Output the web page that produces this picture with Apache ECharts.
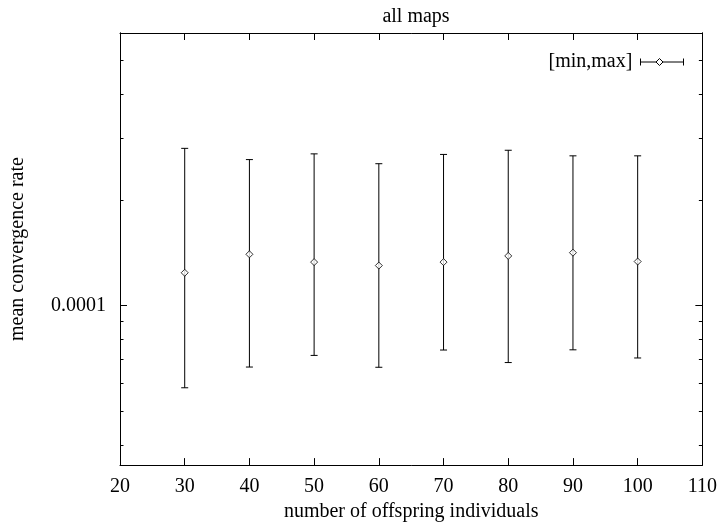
<!DOCTYPE html>
<html>
<head>
<meta charset="utf-8">
<title>all maps</title>
<script src="https://cdn.jsdelivr.net/npm/echarts@6/dist/echarts.min.js"></script>
<style>
  html, body { margin: 0; padding: 0; background: #fff; }
  #chart { width: 720px; height: 527px; }
</style>
</head>
<body>
<div id="chart"></div>
<script>
// Number of offspring individuals per run
const offspring = [30, 40, 50, 60, 70, 80, 90, 100];
// Mean convergence rate and its [min, max] range over all maps
const meanRate = [1.24e-4, 1.40e-4, 1.33e-4, 1.30e-4, 1.33e-4, 1.385e-4, 1.415e-4, 1.335e-4];
const minRate  = [5.82e-5, 6.67e-5, 7.20e-5, 6.66e-5, 7.46e-5, 6.87e-5, 7.47e-5, 7.08e-5];
const maxRate  = [2.81e-4, 2.61e-4, 2.71e-4, 2.54e-4, 2.70e-4, 2.775e-4, 2.675e-4, 2.675e-4];

// Axis ranges and tick positions
const xRange = [20, 110];
const xStep = 10;
const yRange = [3.5e-5, 6e-4];
const yMajorTicks = [1e-4];
const yMinorTicks = [4e-5, 5e-5, 6e-5, 7e-5, 8e-5, 9e-5, 2e-4, 3e-4, 4e-4, 5e-4];

const FONT = 'Liberation Serif';
const INK = '#000';

const errData = offspring.map((x, i) => [x, minRate[i], maxRate[i]]);
const meanData = offspring.map((x, i) => [x, meanRate[i]]);

function logAxis(position, ticks, tickLen, showLabels) {
  return {
    type: 'log',
    logBase: 10,
    position: position,
    min: yRange[0],
    max: yRange[1],
    axisLine: { show: true, lineStyle: { color: INK, width: 1 } },
    axisTick: { show: true, inside: true, length: tickLen, customValues: ticks,
                lineStyle: { color: INK, width: 1 } },
    axisLabel: showLabels ? {
      show: true, customValues: ticks, margin: 14,
      fontFamily: FONT, fontSize: 20, color: INK,
      formatter: v => (Math.abs(v - 1e-4) < 1e-9 ? '0.0001' : '')
    } : { show: false },
    splitLine: { show: false },
    minorTick: { show: false },
    minorSplitLine: { show: false }
  };
}

function linAxis(position, showLabels) {
  return {
    type: 'value',
    position: position,
    min: xRange[0],
    max: xRange[1],
    interval: xStep,
    axisLine: { show: true, onZero: false, lineStyle: { color: INK, width: 1 } },
    axisTick: { show: true, inside: true, length: 7, lineStyle: { color: INK, width: 1 } },
    axisLabel: showLabels ? { show: true, margin: 12, fontFamily: FONT, fontSize: 20, color: INK }
                          : { show: false },
    splitLine: { show: false }
  };
}

const chart = echarts.init(document.getElementById('chart'), null, { renderer: 'canvas' });

const xBottom = linAxis('bottom', true);
xBottom.name = 'number of offspring individuals';
xBottom.nameLocation = 'middle';
xBottom.nameGap = 34;
xBottom.nameTextStyle = { fontFamily: FONT, fontSize: 20, color: INK };

const yLeft = logAxis('left', yMajorTicks, 7, true);
yLeft.name = 'mean convergence rate';
yLeft.nameLocation = 'middle';
yLeft.nameGap = 92;
yLeft.nameTextStyle = { fontFamily: FONT, fontSize: 20, color: INK };

chart.setOption({
  animation: false,
  backgroundColor: '#fff',
  title: {
    text: 'all maps',
    left: 411,
    textAlign: 'center',
    top: 2,
    textStyle: { fontFamily: FONT, fontSize: 20, fontWeight: 'normal', color: INK }
  },
  grid: { left: 118, right: 16, top: 33, bottom: 58, containLabel: false },
  xAxis: [xBottom, linAxis('top', false)],
  yAxis: [
    yLeft,
    logAxis('left', yMinorTicks, 3.5, false),
    logAxis('right', yMajorTicks, 7, false),
    logAxis('right', yMinorTicks, 3.5, false)
  ],
  graphic: [{
    type: 'group',
    right: 34,
    top: 52,
    children: [
      { type: 'text', left: 0, top: 0,
        style: { text: '[min,max]', font: '20px "Liberation Serif"', fill: INK } },
      { type: 'line', shape: { x1: 92, y1: 10, x2: 135, y2: 10 }, style: { stroke: INK, lineWidth: 1 } },
      { type: 'line', shape: { x1: 92, y1: 6.5, x2: 92, y2: 13.5 }, style: { stroke: INK, lineWidth: 1 } },
      { type: 'line', shape: { x1: 135, y1: 6.5, x2: 135, y2: 13.5 }, style: { stroke: INK, lineWidth: 1 } },
      { type: 'polygon', shape: { points: [[111, 6.5], [114.5, 10], [111, 13.5], [107.5, 10]] },
        style: { fill: '#fff', stroke: INK, lineWidth: 1 } }
    ]
  }],
  series: [
    {
      name: '[min,max]',
      type: 'custom',
      xAxisIndex: 0,
      yAxisIndex: 0,
      data: errData,
      renderItem: function (params, api) {
        const lo = api.coord([api.value(0), api.value(1)]);
        const hi = api.coord([api.value(0), api.value(2)]);
        const cap = 3.5;
        const st = { stroke: INK, lineWidth: 1 };
        return {
          type: 'group',
          children: [
            { type: 'line', shape: { x1: lo[0], y1: lo[1], x2: hi[0], y2: hi[1] }, style: st },
            { type: 'line', shape: { x1: lo[0] - cap, y1: lo[1], x2: lo[0] + cap, y2: lo[1] }, style: st },
            { type: 'line', shape: { x1: hi[0] - cap, y1: hi[1], x2: hi[0] + cap, y2: hi[1] }, style: st }
          ]
        };
      },
      z: 2
    },
    {
      name: 'mean',
      type: 'scatter',
      xAxisIndex: 0,
      yAxisIndex: 0,
      data: meanData,
      symbol: 'diamond',
      symbolSize: 7,
      itemStyle: { color: '#fff', borderColor: INK, borderWidth: 1 },
      z: 3
    }
  ]
});
</script>
</body>
</html>
